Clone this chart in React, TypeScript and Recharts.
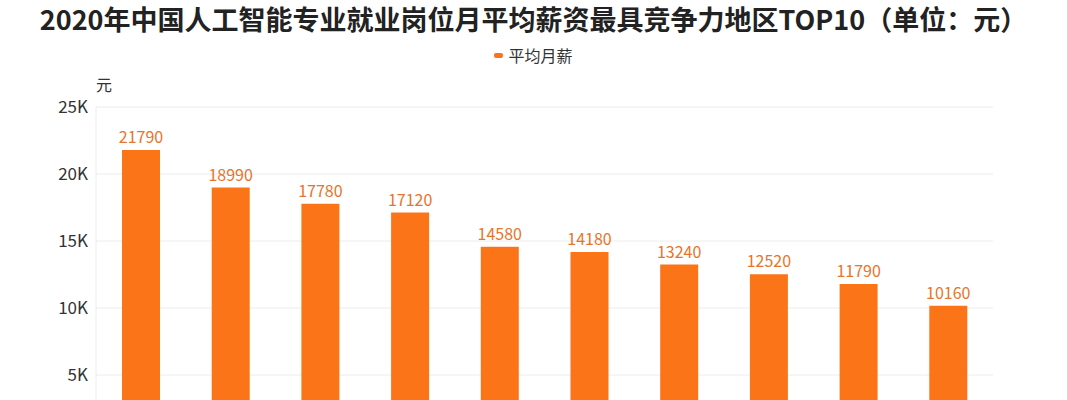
import React from 'react';
import { BarChart, Bar, XAxis, YAxis, CartesianGrid, LabelList } from 'recharts';

const regions = ['北京', '上海', '深圳', '杭州', '广州', '苏州', '南京', '成都', '武汉', '西安'];
const salaries = [21790, 18990, 17780, 17120, 14580, 14180, 13240, 12520, 11790, 10160];
const yTicks = [0, 5000, 10000, 15000, 20000, 25000];

const data = regions.map((region, i) => ({ region, salary: salaries[i] }));

const FONT = '"Noto Sans CJK SC", "Noto Sans", sans-serif';
const BAR_COLOR = '#fb7418';

export default function App() {
  return (
    <div style={{ position: 'absolute', left: 0, top: 0, width: 1067, height: 500, background: '#fff', fontFamily: FONT }}>
      <div
        style={{
          position: 'absolute',
          top: 1,
          left: 0,
          width: 1067,
          textAlign: 'center',
          fontSize: 27,
          fontWeight: 700,
          color: '#222',
          lineHeight: '36px',
        }}
      >
        2020年中国人工智能专业就业岗位月平均薪资最具竞争力地区TOP10（单位：元）
      </div>
      <div
        style={{
          position: 'absolute',
          top: 43,
          left: 0,
          width: 1067,
          display: 'flex',
          justifyContent: 'center',
          alignItems: 'center',
          fontSize: 16,
          color: '#333',
        }}
      >
        <span style={{ display: 'inline-block', width: 9, height: 5, borderRadius: 2, background: BAR_COLOR, marginRight: 5 }} />
        平均月薪
      </div>
      <div style={{ position: 'absolute', top: 72, left: 96, fontSize: 16, color: '#333' }}>元</div>
      <BarChart
        width={1067}
        height={500}
        data={data}
        margin={{ top: 107, right: 74, bottom: 28, left: 0 }}
      >
        <CartesianGrid vertical={false} stroke="#ececec" />
        <XAxis
          dataKey="region"
          axisLine={{ stroke: '#ddd' }}
          tickLine={false}
          tick={{ fill: '#333', fontSize: 16, fontFamily: FONT }}
          height={30}
        />
        <YAxis
          width={96}
          domain={[0, 25000]}
          ticks={yTicks}
          axisLine={{ stroke: '#ececec' }}
          tickLine={false}
          tick={{ fill: '#333', fontSize: 17, fontFamily: FONT }}
          tickFormatter={(v: number) => (v === 0 ? '0' : `${v / 1000}K`)}
        />
        <Bar dataKey="salary" fill={BAR_COLOR} barSize={38} isAnimationActive={false}>
          <LabelList
            dataKey="salary"
            position="top"
            offset={7}
            style={{ fill: '#e8742a', fontSize: 16, fontFamily: FONT }}
          />
        </Bar>
      </BarChart>
    </div>
  );
}
